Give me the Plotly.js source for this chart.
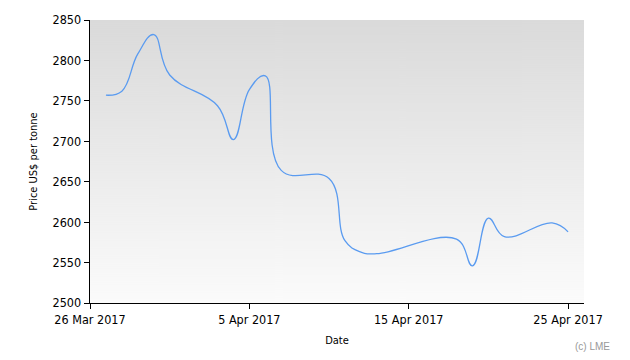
<!DOCTYPE html>
<html>
<head>
<meta charset="utf-8">
<script src="https://cdn.plot.ly/plotly-3.0.1.min.js"></script>
<style>
html,body{margin:0;padding:0;background:#fff;}
#chart{width:630px;height:360px;}
</style>
</head>
<body>
<div id="chart"></div>
<script>
const dates = ['2017-03-27','2017-03-28','2017-03-29','2017-03-30','2017-03-31',
  '2017-04-03','2017-04-04','2017-04-05','2017-04-06','2017-04-07',
  '2017-04-10','2017-04-11','2017-04-12','2017-04-13',
  '2017-04-18','2017-04-19','2017-04-20','2017-04-21',
  '2017-04-24','2017-04-25'];
const prices = [2757, 2762, 2808, 2832, 2782,
  2744, 2702, 2764, 2781, 2664,
  2654, 2577, 2563, 2561,
  2579, 2546, 2605, 2582,
  2599, 2588];
const tickDates = ['2017-03-26','2017-04-05','2017-04-15','2017-04-25'];
const tickLabels = ['26 Mar 2017','5 Apr 2017','15 Apr 2017','25 Apr 2017'];
const yTicks = [2500,2550,2600,2650,2700,2750,2800,2850];

function gradientURL(){
  const c = document.createElement('canvas');
  c.width = 4; c.height = 283;
  const g = c.getContext('2d');
  const grd = g.createLinearGradient(0,0,0,283);
  grd.addColorStop(0,'#dadada');
  grd.addColorStop(1,'#fbfbfb');
  g.fillStyle = grd;
  g.fillRect(0,0,4,283);
  return c.toDataURL();
}

const font = 'DejaVu Sans Condensed, DejaVu Sans, Verdana, sans-serif';

const trace = {
  x: dates, y: prices, type: 'scatter', mode: 'lines',
  line: {shape: 'spline', smoothing: 1.2, color: '#5a9bf0', width: 1.3},
  hoverinfo: 'skip'
};

const layout = {
  width: 630, height: 360,
  margin: {l: 90, r: 46, t: 20, b: 57},
  paper_bgcolor: '#ffffff',
  plot_bgcolor: 'rgba(0,0,0,0)',
  showlegend: false,
  font: {family: font, color: '#000', size: 12},
  images: [{
    source: gradientURL(), xref: 'paper', yref: 'paper',
    x: 0, y: 1, sizex: 1, sizey: 1, sizing: 'stretch',
    xanchor: 'left', yanchor: 'top', layer: 'below'
  }],
  xaxis: {
    type: 'date',
    range: ['2017-03-26', '2017-04-26'],
    tickmode: 'array', tickvals: tickDates, ticktext: tickLabels,
    ticks: 'outside', ticklen: 5, tickcolor: '#000', tickwidth: 1,
    showline: true, linecolor: '#000', linewidth: 1.3,
    showgrid: false, zeroline: false,
    tickfont: {family: font, size: 12.5, color: '#000'},
    title: {text: 'Date', font: {family: font, size: 11, color: '#000'}, standoff: 10}
  },
  yaxis: {
    range: [2500, 2850],
    tickmode: 'array', tickvals: yTicks,
    ticks: 'outside', ticklen: 5, tickcolor: '#000', tickwidth: 1,
    showline: true, linecolor: '#000', linewidth: 1.3,
    showgrid: false, zeroline: false,
    tickfont: {family: font, size: 12.5, color: '#000'},
    title: {text: 'Price US$ per tonne', font: {family: font, size: 11, color: '#000'}, standoff: 12}
  },
  annotations: [{
    text: '(c) LME', xref: 'paper', yref: 'paper', x: 1.057, y: -0.128,
    xanchor: 'right', yanchor: 'top', showarrow: false,
    font: {family: 'Liberation Sans, Arial, sans-serif', size: 10, color: '#999'}
  }]
};

Plotly.newPlot('chart', [trace], layout, {staticPlot: true, displayModeBar: false});
</script>
</body>
</html>
